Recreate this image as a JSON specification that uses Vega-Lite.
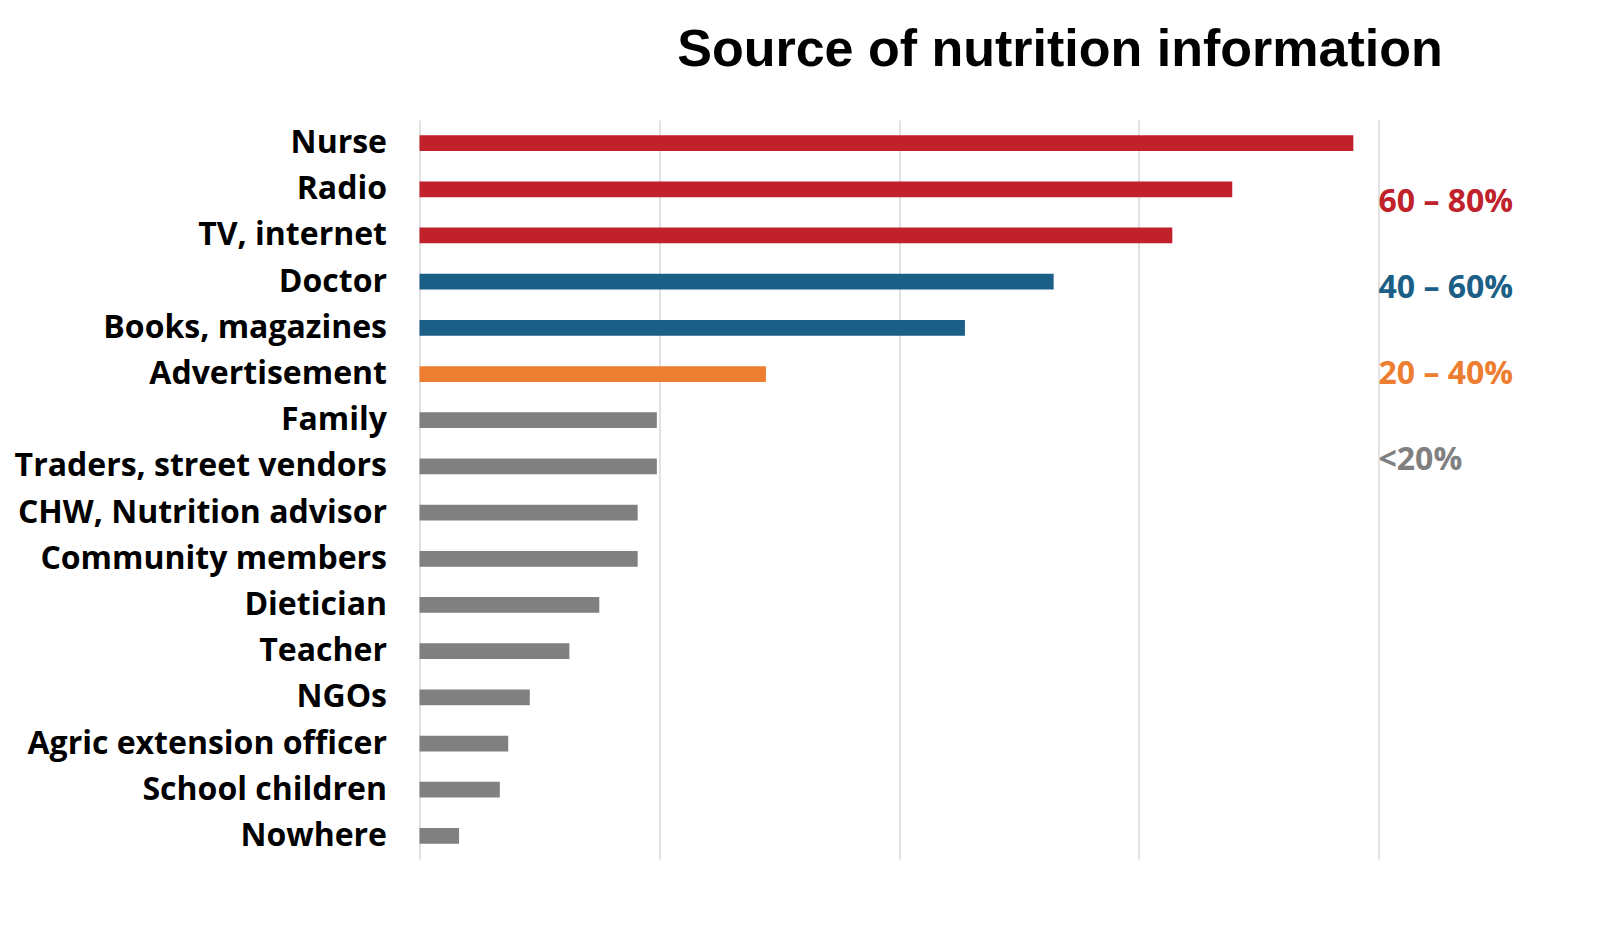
{
  "$schema": "https://vega.github.io/schema/vega-lite/v6.json",
  "width": 959,
  "height": 739,
  "autosize": {"type": "none"},
  "padding": {"left": 419.5, "top": 120, "right": 221.5, "bottom": 70},
  "background": "white",
  "title": {
    "text": "Source of nutrition information",
    "font": "Liberation Sans",
    "fontSize": 52,
    "fontWeight": "bold",
    "color": "black",
    "anchor": "middle",
    "frame": "group",
    "dx": 161,
    "baseline": "alphabetic",
    "offset": 2
  },
  "data": {
    "values": [
      {"source": "Nurse", "pct": 77.9, "range": "60 – 80%"},
      {"source": "Radio", "pct": 67.8, "range": "60 – 80%"},
      {"source": "TV, internet", "pct": 62.8, "range": "60 – 80%"},
      {"source": "Doctor", "pct": 52.9, "range": "40 – 60%"},
      {"source": "Books, magazines", "pct": 45.5, "range": "40 – 60%"},
      {"source": "Advertisement ", "pct": 28.9, "range": "20 – 40%"},
      {"source": "Family", "pct": 19.8, "range": "<20%"},
      {"source": "Traders, street vendors", "pct": 19.8, "range": "<20%"},
      {"source": "CHW, Nutrition advisor", "pct": 18.2, "range": "<20%"},
      {"source": "Community members", "pct": 18.2, "range": "<20%"},
      {"source": "Dietician ", "pct": 15.0, "range": "<20%"},
      {"source": "Teacher", "pct": 12.5, "range": "<20%"},
      {"source": "NGOs", "pct": 9.2, "range": "<20%"},
      {"source": "Agric extension officer", "pct": 7.4, "range": "<20%"},
      {"source": "School children", "pct": 6.7, "range": "<20%"},
      {"source": "Nowhere", "pct": 3.3, "range": "<20%"}
    ]
  },
  "mark": {"type": "bar"},
  "encoding": {
    "y": {
      "field": "source",
      "type": "nominal",
      "sort": null,
      "scale": {"paddingInner": 0.66, "paddingOuter": 0.33},
      "axis": {
        "title": null,
        "domain": false,
        "ticks": false,
        "grid": false,
        "labelFont": "Open Sans",
        "labelFontSize": 32,
        "labelFontWeight": "bold",
        "labelColor": "black",
        "labelPadding": 33,
        "labelLimit": 0
      }
    },
    "x": {
      "field": "pct",
      "type": "quantitative",
      "scale": {"domain": [0, 80], "nice": false},
      "axis": {
        "title": null,
        "labels": false,
        "ticks": false,
        "domain": false,
        "values": [0, 20, 40, 60, 80],
        "grid": true,
        "gridColor": "#D9D9D9",
        "gridWidth": 1.5
      }
    },
    "color": {
      "field": "range",
      "type": "nominal",
      "scale": {
        "domain": ["60 – 80%", "40 – 60%", "20 – 40%", "<20%"],
        "range": ["#C0212B", "#1B5F87", "#ED7D31", "#808080"]
      },
      "legend": {
        "orient": "none",
        "legendX": 927,
        "legendY": 66,
        "title": null,
        "symbolSize": 0,
        "symbolOpacity": 0,
        "symbolStrokeWidth": 0,
        "labelOffset": 0,
        "labelFont": "Open Sans",
        "labelFontSize": 32,
        "labelFontWeight": "bold",
        "labelLimit": 0,
        "rowPadding": 54,
        "padding": 0,
        "encode": {"labels": {"update": {"fill": {"scale": "color", "field": "value"}}}}
      }
    }
  },
  "config": {"view": {"stroke": null}}
}
